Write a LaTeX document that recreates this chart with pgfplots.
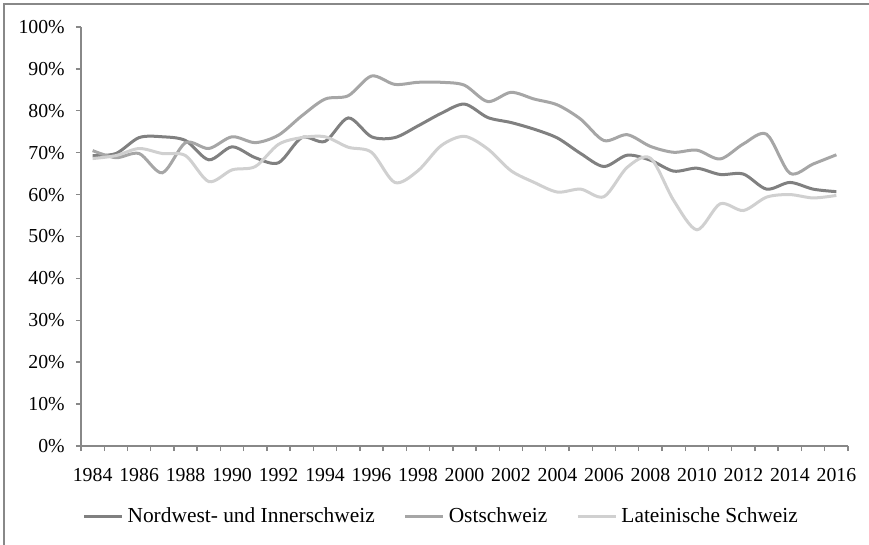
\documentclass[border=0pt]{standalone}
\usepackage{pgfplots}
\pgfplotsset{compat=1.18}
\usetikzlibrary{calc}
\usepackage{fontspec}
\setmainfont{Liberation Serif}
\definecolor{nwc}{HTML}{808080}
\definecolor{osc}{HTML}{A6A6A6}
\definecolor{lsc}{HTML}{D0D0D0}
\definecolor{axc}{HTML}{888888}

\begin{document}
\begin{tikzpicture}
\begin{axis}[
  name=ax, scale only axis, width=383.5pt, height=209.5pt,
  xmin=1983.5, xmax=2016.5, ymin=0, ymax=100,
  axis x line*=bottom, axis y line*=left,
  axis line style={axc, line width=0.7pt},
  tick style={axc, line width=0.7pt},
  tick align=outside,
  major tick length=2.6pt,
  xtick={1983.5,1984.5,...,2016.5}, xticklabels={},
  extra x ticks={1984,1986,...,2016},
  extra x tick style={major tick length=0pt},
  ytick={0,10,...,100},
  yticklabel={\pgfmathprintnumber{\tick}\%},
  /pgf/number format/assume math mode=true,
  /pgf/number format/1000 sep={},
  tick label style={font=\fontsize{9.9}{11}\selectfont, black},
  xticklabel style={yshift=-7.6pt},
  yticklabel style={xshift=-2pt},
  legend columns=3,
  legend style={draw=none, at={(0.471,-0.169)}, anchor=center,
    font=\fontsize{10.7}{12}\selectfont,
    /tikz/every even column/.append style={column sep=12.5pt}},
  legend image code/.code={\draw[#1] (0pt,0pt) -- (19pt,0pt);},
  every axis plot/.append style={line width=1.5pt, smooth, tension=0.5},
]
\addplot[nwc] coordinates {
  (1984,69.3) (1985,69.8) (1986,73.6) (1987,73.8) (1988,72.9) (1989,68.3)
  (1990,71.4) (1991,68.8) (1992,67.6) (1993,73.6) (1994,72.7) (1995,78.3)
  (1996,73.8) (1997,73.6) (1998,76.4) (1999,79.4) (2000,81.6) (2001,78.4)
  (2002,77.2) (2003,75.6) (2004,73.5) (2005,69.8) (2006,66.7) (2007,69.4)
  (2008,68.2) (2009,65.6) (2010,66.3) (2011,64.8) (2012,64.9) (2013,61.3)
  (2014,62.9) (2015,61.3) (2016,60.7)
};
\addlegendentry{Nordwest- und Innerschweiz}
\addplot[osc] coordinates {
  (1984,70.5) (1985,68.8) (1986,69.8) (1987,65.2) (1988,72.4) (1989,71.0)
  (1990,73.8) (1991,72.4) (1992,74.2) (1993,78.8) (1994,82.8) (1995,83.6)
  (1996,88.3) (1997,86.3) (1998,86.8) (1999,86.8) (2000,86.1) (2001,82.2)
  (2002,84.4) (2003,82.8) (2004,81.4) (2005,78.0) (2006,72.9) (2007,74.3)
  (2008,71.5) (2009,70.1) (2010,70.6) (2011,68.5) (2012,72.1) (2013,74.4)
  (2014,65.1) (2015,67.3) (2016,69.5)
};
\addlegendentry{Ostschweiz}
\addplot[lsc] coordinates {
  (1984,68.6) (1985,69.3) (1986,71.0) (1987,69.8) (1988,69.3) (1989,63.1)
  (1990,65.9) (1991,66.7) (1992,72.0) (1993,73.6) (1994,73.8) (1995,71.3)
  (1996,70.1) (1997,62.9) (1998,65.7) (1999,71.7) (2000,73.9) (2001,70.9)
  (2002,65.7) (2003,62.9) (2004,60.6) (2005,61.3) (2006,59.5) (2007,66.5)
  (2008,68.7) (2009,58.6) (2010,51.6) (2011,57.8) (2012,56.2) (2013,59.4)
  (2014,60.0) (2015,59.2) (2016,59.8)
};
\addlegendentry{Lateinische Schweiz}
\end{axis}
\coordinate (tl) at ($(ax.south west)+(-40.5pt,223pt)$);
\pgfresetboundingbox
\path[use as bounding box] (tl) rectangle ++(434.5pt,-272.5pt);
\draw[axc, line width=0.7pt] ([shift={(2pt,-272.5pt)}]tl) -- ([shift={(2pt,-2pt)}]tl) -- ([shift={(434.5pt,-2pt)}]tl);
\end{tikzpicture}
\end{document}
